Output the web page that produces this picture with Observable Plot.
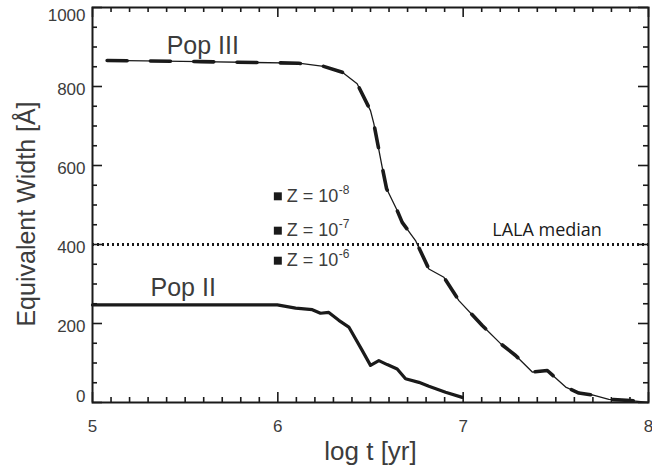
<!DOCTYPE html>
<html>
<head>
<meta charset="utf-8">
<script src="https://cdn.jsdelivr.net/npm/d3@7"></script>
<script src="https://cdn.jsdelivr.net/npm/@observablehq/plot@0.6"></script>
<style>
  html, body { margin: 0; padding: 0; background: #fff; }
  #chart svg { display: block; }
</style>
</head>
<body>
<div id="chart"></div>
<script>
// Lyman-alpha equivalent width vs. starburst age

// Pop III track: log t [yr], EW [Å]
const popIIILogT = [5.079, 5.583, 6.112, 6.247, 6.348, 6.428, 6.500, 6.518, 6.563, 6.587,
  6.644, 6.671, 6.743, 6.815, 6.896, 6.977, 7.103, 7.202, 7.283, 7.373,
  7.454, 7.553, 7.624, 7.697, 7.786, 7.903, 8.0];
const popIIIEW = [866, 863, 859, 851, 836, 807, 739, 706, 596, 541,
  486, 456, 410, 338, 317, 258, 195, 149, 119, 77,
  81, 39, 24, 19, 8, 5, 0];

// Pop II track
const popIILogT = [5.0, 5.5, 5.997, 6.096, 6.186, 6.230, 6.275, 6.329, 6.383, 6.455,
  6.500, 6.545, 6.590, 6.644, 6.689, 6.761, 6.815, 6.905, 6.995];
const popIIEW = [247, 247, 247, 239, 235, 226, 228, 208, 191, 132,
  94, 106, 96, 85, 60, 51, 41, 26, 13];

// Metallicity markers
const zExponents = ["-8", "-7", "-6"];
const zLogT = [6.0, 6.0, 6.0];
const zEW = [522, 435, 359];

// LALA survey median EW
const lalaMedian = [400];

// Axis ticks
const xTicks = [5, 6, 7, 8];
const yTicks = [0, 200, 400, 600, 800, 1000];
const xMinor = d3.range(51, 80).filter(v => v % 10 !== 0).map(v => v / 10);
const yMinor = d3.range(50, 1000, 50).filter(v => v % 200 !== 0);

const popIII = popIIILogT.map((t, i) => ({t, ew: popIIIEW[i]}));
const popII = popIILogT.map((t, i) => ({t, ew: popIIEW[i]}));
const markers = zExponents.map((e, i) => ({e, t: zLogT[i], ew: zEW[i]}));

const W = 652, H = 468;
const mL = 92, mR = 4, mT = 7, mB = 66;
const fw = W - mL - mR, fh = H - mT - mB;
const xDom = [5, 8], yDom = [0, 1000];
// tick lengths in pixels, converted to data units for the rules
const px = n => n * (xDom[1] - xDom[0]) / fw;
const py = n => n * (yDom[1] - yDom[0]) / fh;

const ink = "#1a1a1a";
const textInk = "#3c3c3c";
const font = "'Liberation Sans', Arial, Helvetica, sans-serif";

const tickMarks = [
  Plot.ruleX(xTicks, {x: d => d, y1: yDom[0], y2: yDom[0] + py(10), stroke: ink, strokeWidth: 1.6}),
  Plot.ruleX(xTicks, {x: d => d, y1: yDom[1], y2: yDom[1] - py(10), stroke: ink, strokeWidth: 1.6}),
  Plot.ruleX(xMinor, {x: d => d, y1: yDom[0], y2: yDom[0] + py(5), stroke: ink, strokeWidth: 1.6}),
  Plot.ruleX(xMinor, {x: d => d, y1: yDom[1], y2: yDom[1] - py(5), stroke: ink, strokeWidth: 1.6}),
  Plot.ruleY(yTicks, {y: d => d, x1: xDom[0], x2: xDom[0] + px(10), stroke: ink, strokeWidth: 1.6}),
  Plot.ruleY(yTicks, {y: d => d, x1: xDom[1], x2: xDom[1] - px(10), stroke: ink, strokeWidth: 1.6}),
  Plot.ruleY(yMinor, {y: d => d, x1: xDom[0], x2: xDom[0] + px(5), stroke: ink, strokeWidth: 1.6}),
  Plot.ruleY(yMinor, {y: d => d, x1: xDom[1], x2: xDom[1] - px(5), stroke: ink, strokeWidth: 1.6})
];

// y labels sit a little below their ticks; the end labels are pulled inside the frame
const yLabelOpts = {tickFormat: d3.format("d"), tickSize: 0, tickPadding: 7,
  color: textInk, fontSize: 17, label: null};

const chart = Plot.plot({
  width: W,
  height: H,
  marginLeft: mL,
  marginRight: mR,
  marginTop: mT,
  marginBottom: mB,
  x: {domain: xDom},
  y: {domain: yDom},
  style: {fontFamily: font, fontSize: "17px", background: "#fff", overflow: "visible"},
  marks: [
    ...tickMarks,
    Plot.axisX({ticks: xTicks, tickFormat: d3.format("d"), tickSize: 0, tickPadding: 17,
      color: textInk, fontSize: 17, label: null}),
    Plot.axisY({...yLabelOpts, ticks: yTicks.slice(1, -1), dy: 3}),
    Plot.axisY({...yLabelOpts, ticks: yTicks.slice(0, 1), dy: -6}),
    Plot.axisY({...yLabelOpts, ticks: yTicks.slice(-1), dy: 8}),

    // LALA median
    Plot.ruleY(lalaMedian, {y: d => d, stroke: ink, strokeWidth: 3, strokeDasharray: "2,3"}),
    Plot.text(["LALA median"], {x: 7.157, y: lalaMedian[0], dy: -14, textAnchor: "start",
      fill: ink, fontSize: 18, fontFamily: "'Open Sans', 'Liberation Sans', sans-serif"}),

    // Pop III: thin solid line with heavy dashes on top
    Plot.line(popIII, {x: "t", y: "ew", stroke: ink, strokeWidth: 1.3}),
    Plot.line(popIII, {x: "t", y: "ew", stroke: ink, strokeWidth: 3.6, strokeDasharray: "20,23.3"}),

    // Pop II
    Plot.line(popII, {x: "t", y: "ew", stroke: ink, strokeWidth: 3.2}),

    // Metallicity markers and labels
    Plot.dot(markers, {x: "t", y: "ew", symbol: "square", r: 4.5, fill: ink, stroke: null}),
    Plot.text(markers, {x: "t", y: "ew", text: () => "Z = 10", dx: 9, textAnchor: "start",
      fill: textInk, fontSize: 18}),
    Plot.text(markers, {x: "t", y: "ew", text: "e", dx: 61, dy: -6.5, textAnchor: "start",
      fill: textInk, fontSize: 12}),

    // curve names
    Plot.text(["Pop III"], {x: 5.4, y: 903, textAnchor: "start", fill: textInk, fontSize: 25}),
    Plot.text(["Pop II"], {x: 5.313, y: 290, textAnchor: "start", fill: textInk, fontSize: 25}),

    // axis titles
    Plot.text(["Equivalent Width [Å]"], {frameAnchor: "left", textAnchor: "middle", lineAnchor: "middle",
      rotate: -90, dx: -66, dy: 9, fill: textInk, fontSize: 25}),
    Plot.text(["log t [yr]"], {frameAnchor: "bottom", textAnchor: "middle", lineAnchor: "middle",
      dy: 48.7, fill: textInk, fontSize: 26}),

    Plot.frame({stroke: ink, strokeWidth: 2})
  ]
});

document.getElementById("chart").appendChild(chart);
</script>
</body>
</html>
